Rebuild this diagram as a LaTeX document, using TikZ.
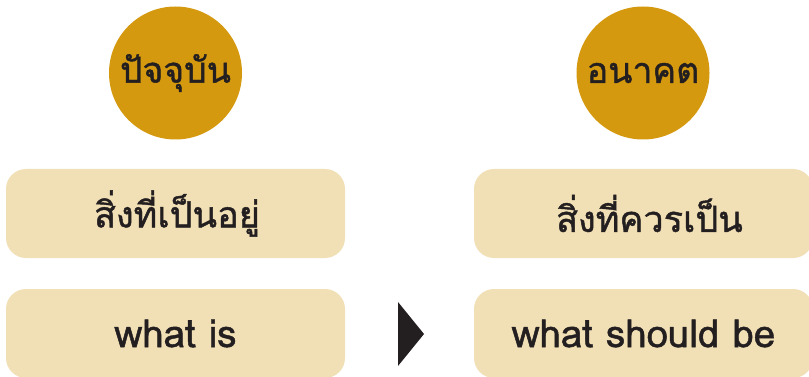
\documentclass[tikz,border=0pt]{standalone}
\usepackage{fontspec}
\newfontfamily\thaifont[Script=Thai,FakeBold=1.2]{Loma}
\definecolor{gold}{HTML}{D4990F}
\definecolor{sand}{HTML}{F1DFB5}
\definecolor{ink}{HTML}{231F20}
\tikzset{
  circ/.style={circle, fill=gold, minimum size=133pt, inner sep=0pt, text=ink, font=\thaifont\fontsize{35.5}{35.5}\selectfont},
  card/.style={rounded corners=20pt, fill=sand, minimum width=339pt, minimum height=89pt, inner sep=0pt, text=ink, font=\thaifont\fontsize{36}{36}\selectfont},
  latin/.style={font=\thaifont\fontsize{38.5}{38.5}\selectfont},
  tip/.style={fill=ink}
}
\begin{document}
\begin{tikzpicture}[x=1pt,y=-1pt]
\useasboundingbox (0,0) rectangle (809,377);
\node[circ] (now) at (175.5,73) {ปัจจุบัน};
\node[circ] (future) at (643,73) {อนาคต};
\node[card] (isth) at (175.5,213.5) {\hspace*{3pt}สิ่งที่เป็นอยู่};
\node[card, latin] (isen) at (175.5,333.5) {what is};
\node[card] (beth) at (643.5,213.5) {\hspace*{12pt}สิ่งที่ควรเป็น};
\node[card, latin] (been) at (643.5,333.5) {what should be};
\coordinate (t1) at (398,302);
\coordinate (t2) at (424,334);
\coordinate (t3) at (398,366);
\fill[tip] (t1) -- (t2) -- (t3) -- cycle;
\end{tikzpicture}
\end{document}
